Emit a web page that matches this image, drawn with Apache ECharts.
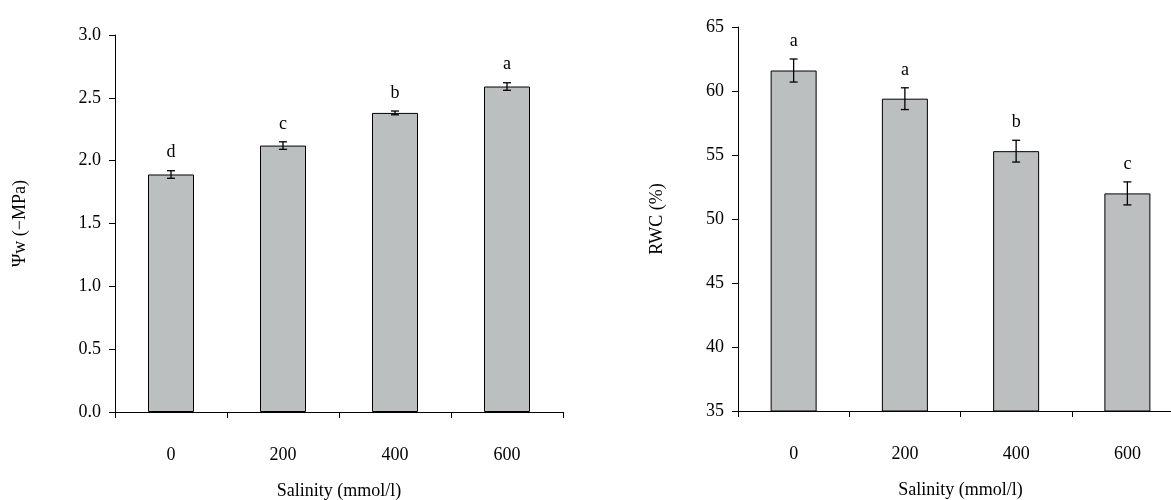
<!DOCTYPE html>
<html><head><meta charset="utf-8">
<script src="https://cdn.jsdelivr.net/npm/echarts@6/dist/echarts.min.js"></script>
<style>html,body{margin:0;background:#fff}#c{width:1171px;height:500px}</style>
</head><body><div id="c"></div>
<script>
const categories = ['0', '200', '400', '600'];
const psiValues = [1.89, 2.12, 2.38, 2.59];
const psiErrors = [0.03, 0.03, 0.015, 0.03];
const psiLetters = ['d', 'c', 'b', 'a'];
const rwcValues = [61.6, 59.4, 55.3, 52.0];
const rwcErrors = [0.9, 0.85, 0.85, 0.9];
const rwcLetters = ['a', 'a', 'b', 'c'];

const font = 'Liberation Serif';

function errorSeries(idx, vals, errs, letters) {
    return {
        type: 'custom', xAxisIndex: idx, yAxisIndex: idx, z: 10,
        data: vals.map((v, i) => [i, v, errs[i]]),
        renderItem: (params, api) => {
            const x = api.coord([api.value(0), api.value(1)])[0];
            const top = api.coord([api.value(0), api.value(1) + api.value(2)])[1];
            const bot = api.coord([api.value(0), api.value(1) - api.value(2)])[1];
            const s = {stroke: '#000', lineWidth: 1.3};
            return {type: 'group', children: [
                {type: 'line', shape: {x1: x, y1: top, x2: x, y2: bot}, style: s},
                {type: 'line', shape: {x1: x - 4, y1: top, x2: x + 4, y2: top}, style: s},
                {type: 'line', shape: {x1: x - 4, y1: bot, x2: x + 4, y2: bot}, style: s},
                {type: 'text', style: {text: letters[params.dataIndex], x: x, y: top - 9,
                    align: 'center', verticalAlign: 'bottom', font: '18px "' + font + '"', fill: '#000'}}
            ]};
        }
    };
}

const xAxisBase = {
    type: 'category', data: categories,
    axisLine: {lineStyle: {color: '#000', width: 1}},
    axisTick: {show: true, length: 6, lineStyle: {color: '#000'}},
    axisLabel: {color: '#000', fontFamily: font, fontSize: 18, margin: 34},
    name: 'Salinity (mmol/l)', nameLocation: 'middle', nameGap: 70,
    nameTextStyle: {color: '#000', fontFamily: font, fontSize: 18}
};
const yAxisBase = {
    type: 'value',
    axisLine: {show: true, lineStyle: {color: '#000', width: 1}},
    axisTick: {show: true, length: 6, lineStyle: {color: '#000'}},
    splitLine: {show: false},
    axisLabel: {color: '#000', fontFamily: font, fontSize: 18, margin: 14},
    nameLocation: 'middle',
    nameTextStyle: {color: '#000', fontFamily: font, fontSize: 18}
};
const barStyle = {color: '#bcbfbf', borderColor: '#000', borderWidth: 1};

echarts.init(document.getElementById('c')).setOption({
    animation: false,
    grid: [
        {left: 115, top: 35, width: 448, height: 377, outerBoundsMode: 'none', containLabel: false},
        {left: 738, top: 27, width: 445, height: 384, outerBoundsMode: 'none', containLabel: false}
    ],
    xAxis: [
        Object.assign({gridIndex: 0}, xAxisBase),
        Object.assign({gridIndex: 1}, xAxisBase)
    ],
    yAxis: [
        Object.assign({}, yAxisBase, {gridIndex: 0, min: 0, max: 3, interval: 0.5, name: 'Ψw (−MPa)', nameGap: 86,
            axisLabel: Object.assign({}, yAxisBase.axisLabel, {formatter: v => v.toFixed(1)})}),
        Object.assign({}, yAxisBase, {gridIndex: 1, min: 35, max: 65, interval: 5, name: 'RWC (%)', nameGap: 72})
    ],
    series: [
        {type: 'bar', xAxisIndex: 0, yAxisIndex: 0, data: psiValues, barWidth: 46, itemStyle: barStyle},
        {type: 'bar', xAxisIndex: 1, yAxisIndex: 1, data: rwcValues, barWidth: 46, itemStyle: barStyle},
        errorSeries(0, psiValues, psiErrors, psiLetters),
        errorSeries(1, rwcValues, rwcErrors, rwcLetters)
    ]
});
</script></body></html>
